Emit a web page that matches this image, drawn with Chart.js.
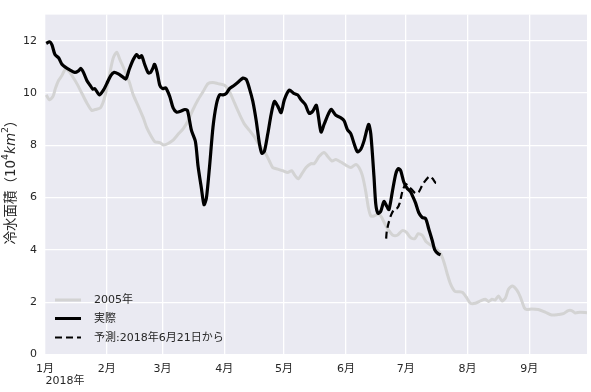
<!DOCTYPE html>
<html>
<head>
<meta charset="utf-8">
<script src="https://cdn.jsdelivr.net/npm/chart.js@4"></script>
<style>
  html, body { margin: 0; padding: 0; background: #fff; }
  #wrap { width: 591px; height: 392px; }
</style>
</head>
<body>
<div id="wrap"><canvas id="chart" width="591" height="392"></canvas></div>
<script>
// day of year (Jan 1 = 0) and area (10^4 km^2)
const actualDays = [0.6, 2.3, 3.5, 5, 6.8, 8.5, 10, 12.6, 15, 16.8, 18, 19.3, 21, 22.6, 24, 25, 27.3, 29.3, 31, 33, 34.7, 36.8, 39.3, 40.6, 42.3, 44.3, 46, 47.3, 48.5, 50, 51.8, 53, 54.3, 55, 56.3, 57.6, 59, 60.6, 62.6, 64.3, 66, 68, 70.2, 71.5, 73.5, 75.5, 76.8, 78.5, 79.8, 81, 82.6, 84.3, 86, 87.6, 89.3, 91, 92.6, 95, 97, 99.3, 101, 102.6, 104.3, 106, 107.6, 108.8, 110.1, 111.8, 113.5, 115.1, 116.8, 118.5, 120.1, 122.6, 124.8, 126.8, 128.5, 130.6, 132.6, 134.3, 136.2, 138.5, 140.1, 143.5, 146, 148.5, 150.1, 151.8, 153.5, 155.1, 156.8, 158.5, 160.1, 162.4, 163.5, 165.1, 166, 167.1, 168.5, 170.1, 171.5, 172.6, 174.3, 176, 177.3, 178.5, 180.1, 181.8, 183.5, 184.6, 186, 187.6, 189.3, 191, 192.6, 194.3, 195.6, 197.3, 198.5];
const actualValues = [11.9, 11.96, 11.84, 11.47, 11.35, 11.1, 11.0, 10.88, 10.79, 10.85, 10.94, 10.79, 10.48, 10.3, 10.15, 10.17, 9.93, 10.11, 10.36, 10.67, 10.79, 10.73, 10.6, 10.54, 10.91, 11.28, 11.47, 11.35, 11.43, 11.1, 10.77, 10.79, 10.98, 11.1, 10.79, 10.3, 10.17, 10.2, 9.87, 9.43, 9.27, 9.3, 9.37, 9.33, 8.57, 8.14, 7.21, 6.35, 5.73, 5.98, 7.21, 8.69, 9.56, 9.93, 9.93, 9.99, 10.17, 10.3, 10.42, 10.57, 10.52, 10.17, 9.68, 8.94, 8.07, 7.7, 7.77, 8.44, 9.19, 9.68, 9.5, 9.25, 9.74, 10.11, 9.99, 9.93, 9.74, 9.56, 9.22, 9.3, 9.53, 8.51, 8.81, 9.37, 9.15, 9.05, 8.94, 8.6, 8.44, 8.07, 7.75, 7.85, 8.17, 8.8, 8.44, 6.8, 5.75, 5.4, 5.48, 5.85, 5.67, 5.54, 6.22, 6.9, 7.11, 7.03, 6.59, 6.35, 6.22, 6.04, 5.79, 5.42, 5.24, 5.2, 4.8, 4.37, 4.0, 3.85, 3.81];

const y2005Days = [0.6, 2.3, 4, 5.2, 6.8, 8.5, 10.2, 11.8, 13.5, 16, 18.5, 21, 23.5, 25.2, 27.7, 29.3, 31, 32.6, 34.3, 36, 37.6, 40.1, 42.3, 44.3, 46.8, 49.3, 51, 53.5, 55.1, 57.6, 59.6, 61.8, 64.3, 66.8, 69.3, 71.8, 74.3, 76.8, 79.3, 81.8, 84.3, 86.8, 90.1, 92.6, 95.1, 97.6, 100.1, 102.6, 105.1, 107.6, 110.1, 112.6, 114.3, 116.8, 119.3, 121.8, 123.8, 125.5, 127.1, 128.8, 131, 133.5, 135.1, 137.6, 140.1, 141.8, 144, 146, 148.5, 151, 153.5, 156, 157.6, 159.3, 161, 162.3, 163.5, 165.1, 166.8, 168.5, 170.6, 172.6, 174.6, 176.8, 179.3, 181.3, 183.5, 185.6, 187.3, 189.3, 191.3, 193.5, 196, 198.5, 200.3, 201.8, 203.5, 205.6, 207.6, 209.6, 211.8, 213.5, 216, 218.5, 221, 222.6, 224.3, 226, 227.6, 229.3, 231, 232.6, 234.6, 236.8, 238.5, 240.6, 241.8, 244.3, 247.6, 251, 254.3, 257.6, 260.1, 262.6, 264.3, 266, 268.5, 272];
const y2005Values = [9.93, 9.74, 9.87, 10.17, 10.48, 10.67, 10.91, 10.85, 10.67, 10.36, 9.99, 9.62, 9.33, 9.37, 9.43, 9.68, 10.17, 10.79, 11.35, 11.56, 11.28, 10.85, 10.42, 9.93, 9.5, 9.06, 8.69, 8.32, 8.14, 8.1, 8.01, 8.07, 8.2, 8.42, 8.63, 8.94, 9.37, 9.74, 10.05, 10.36, 10.4, 10.36, 10.3, 10.05, 9.62, 9.19, 8.81, 8.57, 8.32, 8.01, 7.77, 7.4, 7.15, 7.09, 7.03, 6.96, 7.03, 6.84, 6.72, 6.9, 7.15, 7.3, 7.3, 7.58, 7.73, 7.58, 7.4, 7.46, 7.36, 7.24, 7.15, 7.27, 7.15, 6.84, 6.22, 5.61, 5.3, 5.3, 5.36, 5.3, 4.99, 4.74, 4.56, 4.56, 4.74, 4.68, 4.47, 4.43, 4.62, 4.56, 4.31, 4.19, 4.06, 3.86, 3.51, 3.1, 2.7, 2.42, 2.4, 2.37, 2.15, 1.96, 1.96, 2.05, 2.11, 2.03, 2.11, 2.09, 2.24, 2.05, 2.15, 2.5, 2.62, 2.46, 2.21, 1.78, 1.72, 1.74, 1.72, 1.62, 1.51, 1.53, 1.56, 1.68, 1.68, 1.59, 1.62, 1.6];

const forecastDays = [171.2, 171.5, 172.3, 173.5, 175.1, 176.8, 178, 179.3, 181, 182.6, 184.3, 186, 187.6, 189.3, 191, 193, 194.6, 196, 198];
const forecastValues = [4.43, 4.7, 4.99, 5.3, 5.54, 5.6, 5.79, 6.22, 6.53, 6.41, 6.29, 6.16, 6.22, 6.47, 6.66, 6.81, 6.72, 6.57, 6.57];

const monthDays = [0, 31, 59, 90, 120, 151, 181, 212, 243];
const monthLabels = ['1月', '2月', '3月', '4月', '5月', '6月', '7月', '8月', '9月'];
const yTicks = [0, 2, 4, 6, 8, 10, 12];
const seriesNames = ['2005年', '実際', '予測:2018年6月21日から'];

const FONT = '"DejaVu Sans", "Noto Sans CJK JP", sans-serif';
const TEXT = '#262626';

function pts(xs, ys) {
  return xs.map((x, i) => ({ x: x, y: ys[i] }));
}

// plot background (seaborn darkgrid look)
const bgPlugin = {
  id: 'bg',
  beforeDraw(chart) {
    const a = chart.chartArea, ctx = chart.ctx;
    ctx.save();
    ctx.fillStyle = '#EAEAF2';
    ctx.fillRect(a.left, a.top, a.right - a.left, a.bottom - a.top);
    ctx.restore();
  }
};

// legend inside the plot, lower left, plus year label and y title
const extrasPlugin = {
  id: 'extras',
  afterDraw(chart) {
    const ctx = chart.ctx;
    ctx.save();

    // legend
    const styles = [
      { color: '#d3d3d3', width: 3, dash: [] },
      { color: '#000', width: 3, dash: [] },
      { color: '#000', width: 2.2, dash: [7, 4] }
    ];
    const rows = [300, 318.5, 337.5];
    ctx.font = '11px ' + FONT;
    ctx.textBaseline = 'middle';
    seriesNames.forEach((name, i) => {
      const s = styles[i];
      ctx.beginPath();
      ctx.setLineDash(s.dash);
      ctx.lineWidth = s.width;
      ctx.strokeStyle = s.color;
      ctx.moveTo(55, rows[i]);
      ctx.lineTo(81, rows[i]);
      ctx.stroke();
      ctx.setLineDash([]);
      ctx.fillStyle = TEXT;
      ctx.textAlign = 'left';
      ctx.fillText(name, 94, rows[i] + 0.5);
    });

    // year under the first month
    ctx.textAlign = 'center';
    ctx.fillText('2018年', 65, 381.5);

    // y axis title with super scripts and italic km
    ctx.translate(11, 179);
    ctx.rotate(-Math.PI / 2);
    const parts = [
      { t: '冷水面積（10', f: '13.5px ' + FONT, dy: 0 },
      { t: '4', f: '9.5px ' + FONT, dy: -5 },
      { t: 'km', f: 'italic 13.5px ' + FONT, dy: 0 },
      { t: '2', f: '9.5px ' + FONT, dy: -5 },
      { t: '）', f: '13.5px ' + FONT, dy: 0 }
    ];
    let total = 0;
    parts.forEach(p => { ctx.font = p.f; p.w = ctx.measureText(p.t).width; total += p.w; });
    let x = -total / 2;
    ctx.textAlign = 'left';
    ctx.fillStyle = TEXT;
    parts.forEach(p => {
      ctx.font = p.f;
      ctx.fillText(p.t, x, p.dy);
      x += p.w;
    });
    ctx.restore();
  }
};

new Chart(document.getElementById('chart').getContext('2d'), {
  type: 'line',
  data: {
    datasets: [
      {
        label: seriesNames[0],
        data: pts(y2005Days, y2005Values),
        borderColor: '#d3d3d3',
        borderWidth: 3,
        order: 3
      },
      {
        label: seriesNames[1],
        data: pts(actualDays, actualValues),
        borderColor: '#000',
        borderWidth: 3.2,
        order: 2
      },
      {
        label: seriesNames[2],
        data: pts(forecastDays, forecastValues),
        borderColor: '#000',
        borderWidth: 2.2,
        borderDash: [7, 4],
        order: 1
      }
    ]
  },
  options: {
    responsive: false,
    animation: false,
    parsing: false,
    elements: {
      point: { radius: 0 },
      line: { tension: 0.25, borderJoinStyle: 'round', borderCapStyle: 'butt' }
    },
    layout: { padding: { top: 4, right: 4, left: 0, bottom: 0 } },
    plugins: { legend: { display: false }, tooltip: { enabled: false } },
    scales: {
      x: {
        type: 'linear',
        min: 0,
        max: 272,
        border: { display: false },
        grid: { color: '#ffffff', lineWidth: 1.3, drawTicks: false },
        afterBuildTicks: scale => { scale.ticks = monthDays.map(v => ({ value: v })); },
        afterFit: scale => { scale.height = 37.5; },
        ticks: {
          autoSkip: false,
          maxRotation: 0,
          padding: 8,
          color: TEXT,
          font: { family: FONT, size: 11 },
          callback: (v, i) => monthLabels[i]
        }
      },
      y: {
        min: 0,
        max: 13,
        border: { display: false },
        grid: { color: '#ffffff', lineWidth: 1.3, drawTicks: false },
        afterBuildTicks: scale => { scale.ticks = yTicks.map(v => ({ value: v })); },
        afterFit: scale => { scale.width = 45; },
        ticks: {
          padding: 8,
          color: TEXT,
          font: { family: FONT, size: 11 },
          callback: v => String(v)
        }
      }
    }
  },
  plugins: [bgPlugin, extrasPlugin]
});
</script>
</body>
</html>
